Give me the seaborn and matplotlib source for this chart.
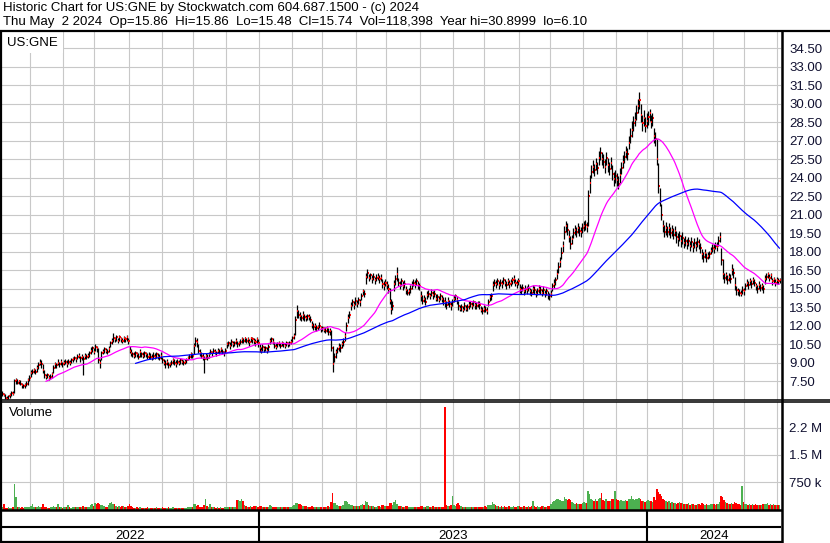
import numpy as np
import pandas as pd
import matplotlib
matplotlib.use('Agg')
import matplotlib.pyplot as plt
import seaborn as sns
from matplotlib.lines import Line2D

# Daily bars for US:GNE, one row per month (May 2022 .. May 2 2024)
closes = [
    6.5, 6.4, 6.2, 6.1, 6.3, 6.4, 6.6, 6.5, 7.5, 7.6, 7.4, 7.5, 7.3, 7.2, 7.1, 7.2, 7.3, 7.6, 7.8,
    8.2, 8.3, 8.4, 8.3, 8.6, 8.8, 9.0, 8.9, 8.4, 8.0, 7.9, 8.0, 7.8, 7.9, 8.1, 8.6, 8.9, 8.8, 9.0, 8.9, 9.1, 8.9,
    9.0, 9.1, 8.9, 9.1, 9.0, 9.2, 9.3, 9.4, 9.3, 9.5, 9.6, 9.4, 9.5, 9.3, 9.6, 9.5, 9.6, 9.8, 10.0, 10.2, 9.9,
    10.3, 10.2, 9.2, 9.0, 9.8, 9.9, 10.1, 10.0, 9.9, 10.1, 10.6, 10.8, 11.0, 10.9, 11.1, 10.8, 11.1, 10.9, 10.8, 11.0, 10.9, 11.1, 10.8,
    10.0, 9.8, 9.7, 9.6, 9.8, 9.7, 9.5, 9.9, 9.7, 9.6, 9.8, 9.7, 9.5, 9.6, 9.5, 9.4, 9.6, 9.5, 9.7, 9.5, 9.4, 9.6,
    9.2, 9.0, 8.9, 9.1, 8.8, 8.9, 9.0, 9.2, 9.0, 8.9, 9.1, 9.0, 9.2, 9.1, 9.0, 9.1, 9.2, 9.4, 9.5, 9.7, 9.6,
    10.4, 10.8, 10.7, 10.0, 9.8, 9.6, 9.5, 9.3, 9.6, 9.4, 9.7, 9.9, 9.8, 10.0, 9.9, 9.8, 10.0, 9.9, 10.1, 9.9, 9.8, 10.0,
    10.5, 10.6, 10.4, 10.7, 10.5, 10.6, 10.8, 10.5, 10.6, 10.7, 10.9, 10.8, 11.0, 10.8, 10.9, 10.7, 11.0, 10.9, 10.8, 10.7, 10.9, 10.6,
    10.2, 10.0, 10.3, 10.1, 10.2, 10.0, 10.3, 10.8, 10.9, 10.7, 10.4, 10.3, 10.5, 10.6, 10.4, 10.6, 10.5, 10.4, 10.6, 10.5, 10.6, 10.7,
    11.0, 11.2, 12.5, 13.2, 12.9, 12.8, 12.6, 12.9, 12.7, 12.6, 12.8, 12.7, 12.5, 12.1, 11.9, 12.0, 11.8, 11.9, 12.0, 11.8,
    11.8, 11.7, 11.6, 11.8, 11.5, 11.6, 10.2, 8.9, 9.5, 9.9, 10.1, 10.3, 10.2, 10.5, 10.7, 11.2, 12.0, 12.6, 12.9, 13.6, 13.9, 13.7, 14.0,
    13.8, 14.1, 13.9, 14.4, 14.8, 14.6, 16.0, 16.3, 15.9, 16.1, 15.8, 16.0, 15.7, 15.9, 16.0, 15.8, 15.9, 15.4, 15.2, 15.5,
    15.3, 15.0, 14.0, 13.4, 13.6, 15.4, 15.8, 16.2, 15.5, 15.3, 15.6, 15.2, 15.4, 14.9, 14.7, 14.8, 15.0, 15.3, 15.5, 15.4, 15.6, 15.3, 15.2,
    14.4, 14.0, 14.2, 13.9, 14.5, 14.6, 14.4, 14.7, 14.5, 14.6, 14.2, 14.3, 14.1, 14.4, 14.2, 14.0, 13.9, 13.7, 14.0, 13.8, 13.6, 13.9,
    14.2, 14.4, 14.1, 13.6, 13.4, 13.5, 13.3, 13.6, 13.4, 13.5, 13.7, 13.8, 13.6, 13.9, 13.7, 13.6, 13.8, 13.7, 13.3, 13.2, 13.4,
    13.3, 13.2, 13.9, 14.3, 14.4, 15.3, 15.5, 15.4, 15.6, 15.3, 15.5, 15.4, 15.7, 15.5, 15.3, 15.6, 15.4, 15.5, 15.7, 15.8, 15.5, 15.4, 15.6,
    15.0, 14.9, 15.1, 14.8, 15.0, 14.9, 15.1, 14.8, 14.7, 15.0, 14.9, 14.6, 14.8, 15.0, 14.9, 14.7, 14.9, 14.6, 14.8, 14.5, 14.4,
    14.6, 15.2, 15.4, 15.7, 16.2, 16.8, 17.2, 17.9, 18.5, 19.6, 20.1, 19.8, 19.2, 18.6, 19.0, 19.5, 19.8, 19.6, 19.9, 19.7, 19.6, 19.9,
    20.1, 20.2, 20.0, 22.5, 23.6, 24.5, 24.9, 24.6, 25.1, 24.8, 25.6, 26.0, 25.5, 25.3, 24.9, 25.6, 25.0, 24.7, 25.2, 24.3, 23.9, 24.1,
    23.8, 23.5, 24.2, 24.8, 25.3, 25.7, 26.1, 25.9, 26.8, 27.4, 27.9, 28.4, 28.7, 29.2, 29.8, 30.3, 29.1, 28.4, 28.8, 28.2, 28.6,
    28.9, 29.2, 28.5, 28.8, 27.4, 27.1, 25.5, 23.3, 22.0, 21.0, 20.1, 19.6, 19.9, 19.6, 19.9, 19.5, 19.8, 19.4, 19.7, 19.2, 19.0, 19.3, 18.9,
    19.1, 18.7, 18.9, 18.6, 18.9, 18.5, 18.8, 18.4, 18.7, 18.5, 18.8, 18.6, 18.3, 17.8, 17.6, 17.9, 17.5, 17.7, 17.8, 18.1, 18.3,
    18.2, 18.5, 18.4, 18.9, 19.2, 17.3, 16.2, 15.9, 16.1, 15.7, 16.0, 15.8, 16.5, 16.3, 15.3, 14.9, 14.8, 14.7, 14.6, 14.9, 14.8,
    15.2, 15.5, 15.3, 15.6, 15.4, 15.7, 15.5, 15.2, 15.0, 15.3, 15.1, 15.2, 15.0, 15.8, 16.0, 16.2, 15.9, 16.1, 15.6, 15.8, 15.5, 15.7,
    15.6, 15.74,
]

highs = [
    6.7, 6.6, 6.5, 6.3, 6.4, 6.6, 6.7, 6.7, 7.7, 7.8, 7.7, 7.6, 7.6, 7.4, 7.3, 7.4, 7.5, 7.8, 8.0,
    8.4, 8.5, 8.6, 8.5, 8.8, 9.1, 9.3, 9.2, 8.9, 8.4, 8.1, 8.2, 8.0, 8.1, 8.3, 8.8, 9.1, 9.0, 9.3, 9.1, 9.3, 9.1,
    9.2, 9.3, 9.2, 9.3, 9.2, 9.4, 9.5, 9.6, 9.5, 9.7, 9.8, 9.6, 9.7, 9.6, 9.8, 9.7, 9.8, 10.0, 10.3, 10.4, 10.2,
    10.5, 10.4, 10.2, 9.3, 10.0, 10.1, 10.3, 10.2, 10.1, 10.4, 10.8, 11.0, 11.4, 11.1, 11.3, 11.0, 11.3, 11.1, 11.0, 11.2, 11.1, 11.3, 11.0,
    10.4, 10.1, 9.9, 9.9, 10.0, 9.9, 9.8, 10.1, 9.9, 9.9, 10.0, 9.9, 9.8, 9.9, 9.8, 9.7, 9.9, 9.8, 9.9, 9.8, 9.7, 9.9,
    9.5, 9.3, 9.2, 9.3, 9.1, 9.1, 9.2, 9.4, 9.3, 9.2, 9.3, 9.2, 9.4, 9.3, 9.2, 9.3, 9.4, 9.6, 9.7, 9.9, 9.8,
    10.6, 11.1, 11.0, 10.5, 10.1, 9.9, 9.8, 9.6, 9.8, 9.7, 9.9, 10.1, 10.0, 10.2, 10.1, 10.0, 10.2, 10.1, 10.3, 10.1, 10.0, 10.2,
    10.7, 10.8, 10.7, 10.9, 10.8, 10.8, 11.0, 10.8, 10.8, 10.9, 11.1, 11.0, 11.1, 11.0, 11.1, 10.9, 11.1, 11.1, 11.0, 10.9, 11.1, 10.9,
    10.5, 10.3, 10.5, 10.4, 10.4, 10.3, 10.5, 11.0, 11.1, 11.0, 10.7, 10.6, 10.7, 10.8, 10.6, 10.8, 10.7, 10.6, 10.8, 10.7, 10.8, 10.9,
    11.2, 11.4, 12.8, 13.7, 13.3, 13.1, 12.9, 13.2, 13.0, 12.9, 13.0, 13.0, 12.8, 12.4, 12.2, 12.2, 12.1, 12.1, 12.3, 12.0,
    12.0, 11.9, 11.9, 12.0, 11.8, 11.8, 11.7, 10.4, 9.8, 10.1, 10.3, 10.6, 10.5, 10.8, 11.0, 11.5, 12.3, 13.0, 13.2, 13.9, 14.2, 14.0, 14.3,
    14.1, 14.3, 14.2, 14.7, 15.0, 14.9, 16.3, 16.6, 16.2, 16.3, 16.1, 16.3, 16.0, 16.2, 16.3, 16.1, 16.2, 15.8, 15.6, 15.8,
    15.6, 15.4, 15.1, 14.2, 14.0, 15.7, 16.1, 16.8, 15.9, 15.6, 15.9, 15.6, 15.7, 15.2, 15.0, 15.1, 15.3, 15.6, 15.8, 15.7, 15.9, 15.6, 15.5,
    14.8, 14.5, 14.5, 14.3, 14.8, 14.9, 14.7, 15.0, 14.8, 14.9, 14.6, 14.6, 14.4, 14.7, 14.5, 14.3, 14.3, 14.0, 14.3, 14.1, 13.9, 14.2,
    14.5, 14.6, 14.4, 14.0, 13.7, 13.8, 13.6, 13.9, 13.7, 13.8, 14.0, 14.0, 13.9, 14.1, 14.0, 13.9, 14.0, 14.0, 13.6, 13.5, 13.7,
    13.6, 13.5, 14.2, 14.6, 14.7, 15.6, 15.8, 15.7, 15.9, 15.6, 15.8, 15.7, 16.0, 15.8, 15.6, 15.9, 15.7, 15.8, 16.0, 16.1, 15.8, 15.7, 15.9,
    15.4, 15.2, 15.4, 15.1, 15.3, 15.2, 15.4, 15.1, 15.0, 15.3, 15.2, 14.9, 15.1, 15.3, 15.2, 15.0, 15.2, 14.9, 15.1, 14.8, 14.7,
    14.9, 15.5, 15.8, 16.0, 16.6, 17.2, 17.6, 18.4, 18.9, 20.1, 20.5, 20.3, 19.8, 19.3, 19.4, 19.9, 20.2, 20.0, 20.3, 20.1, 20.0, 20.3,
    20.5, 20.6, 20.4, 23.0, 24.2, 25.0, 25.4, 25.1, 25.6, 25.3, 26.2, 26.5, 26.1, 25.9, 25.5, 26.1, 25.6, 25.3, 25.7, 25.0, 24.5, 24.6,
    24.4, 24.1, 24.8, 25.3, 25.8, 26.2, 26.6, 26.4, 27.4, 28.0, 28.6, 29.0, 29.3, 29.9, 30.4, 30.9, 30.0, 29.1, 29.5, 28.9, 29.2,
    29.4, 29.6, 29.1, 29.2, 28.0, 27.7, 27.1, 25.2, 23.2, 21.9, 20.6, 20.2, 20.4, 20.1, 20.3, 20.0, 20.2, 19.9, 20.1, 19.7, 19.5, 19.7, 19.4,
    19.6, 19.1, 19.3, 19.0, 19.2, 18.9, 19.2, 18.8, 19.1, 18.9, 19.2, 19.0, 18.7, 18.2, 18.0, 18.2, 17.9, 18.0, 18.1, 18.4, 18.6,
    18.6, 18.8, 18.8, 19.3, 19.6, 18.3, 17.4, 16.3, 16.4, 16.1, 16.3, 16.2, 17.0, 16.7, 16.0, 15.2, 15.1, 15.0, 14.9, 15.2, 15.1,
    15.5, 15.8, 15.6, 15.9, 15.7, 16.0, 15.8, 15.5, 15.3, 15.6, 15.4, 15.5, 15.3, 16.1, 16.3, 16.4, 16.2, 16.3, 15.9, 16.0, 15.8, 16.0,
    15.9, 15.86,
]

lows = [
    6.3, 6.3, 6.1, 6.0, 6.1, 6.2, 6.3, 6.4, 6.6, 7.3, 7.3, 7.3, 7.2, 7.0, 7.0, 7.0, 7.1, 7.2, 7.5,
    7.9, 8.1, 8.2, 8.1, 8.3, 8.5, 8.8, 8.6, 8.2, 7.8, 7.7, 7.8, 7.6, 7.7, 7.8, 8.2, 8.6, 8.6, 8.8, 8.7, 8.8, 8.7,
    8.8, 8.9, 8.7, 8.9, 8.8, 9.0, 9.1, 9.2, 9.1, 9.3, 9.4, 9.1, 9.2, 8.0, 9.3, 9.3, 9.4, 9.5, 9.7, 9.9, 9.7,
    10.0, 9.9, 9.0, 8.6, 9.2, 9.7, 9.8, 9.8, 9.7, 9.9, 10.3, 10.5, 10.7, 10.7, 10.8, 10.6, 10.8, 10.7, 10.6, 10.7, 10.7, 10.8, 10.5,
    9.8, 9.6, 9.5, 9.4, 9.5, 9.5, 9.3, 9.5, 9.5, 9.4, 9.5, 9.5, 9.3, 9.3, 9.3, 9.2, 9.3, 9.3, 9.4, 9.3, 9.2, 9.3,
    9.0, 8.8, 8.6, 8.8, 8.6, 8.7, 8.8, 8.9, 8.8, 8.7, 8.9, 8.8, 8.9, 8.9, 8.8, 8.9, 9.0, 9.2, 9.3, 9.4, 9.4,
    9.7, 10.4, 10.3, 9.8, 9.6, 9.4, 9.2, 8.2, 9.3, 9.2, 9.4, 9.7, 9.6, 9.8, 9.7, 9.6, 9.8, 9.7, 9.9, 9.7, 9.6, 9.8,
    10.2, 10.4, 10.1, 10.4, 10.3, 10.4, 10.5, 10.3, 10.4, 10.5, 10.6, 10.6, 10.7, 10.6, 10.6, 10.4, 10.7, 10.6, 10.5, 10.4, 10.6, 10.3,
    9.9, 9.8, 10.0, 9.9, 10.0, 9.8, 10.0, 10.5, 10.7, 10.5, 10.2, 10.1, 10.3, 10.4, 10.2, 10.4, 10.3, 10.2, 10.4, 10.3, 10.4, 10.5,
    10.7, 10.9, 11.3, 12.6, 12.6, 12.5, 12.4, 12.5, 12.4, 12.4, 12.5, 12.5, 12.3, 11.8, 11.7, 11.7, 11.6, 11.7, 11.8, 11.5,
    11.6, 11.5, 11.4, 11.5, 11.3, 11.3, 10.0, 8.3, 9.1, 9.4, 9.8, 10.0, 9.9, 10.2, 10.4, 10.8, 11.6, 12.2, 12.6, 13.3, 13.6, 13.4, 13.7,
    13.5, 13.8, 13.6, 14.1, 14.5, 14.3, 15.4, 15.9, 15.6, 15.8, 15.5, 15.7, 15.4, 15.6, 15.7, 15.5, 15.6, 15.1, 14.9, 15.2,
    15.0, 14.7, 13.8, 13.0, 13.3, 14.8, 15.3, 15.6, 15.2, 15.0, 15.2, 14.9, 15.1, 14.6, 14.5, 14.5, 14.7, 15.0, 15.2, 15.1, 15.3, 15.0, 14.9,
    14.0, 13.8, 13.9, 13.7, 14.2, 14.3, 14.2, 14.4, 14.2, 14.3, 14.0, 14.0, 13.9, 14.1, 13.9, 13.7, 13.5, 13.4, 13.7, 13.5, 13.3, 13.6,
    13.9, 14.1, 13.8, 13.3, 13.2, 13.2, 13.1, 13.3, 13.2, 13.2, 13.4, 13.5, 13.4, 13.6, 13.4, 13.4, 13.5, 13.4, 13.1, 13.0, 13.1,
    13.1, 13.0, 13.6, 14.0, 14.1, 14.8, 15.2, 15.1, 15.3, 15.0, 15.2, 15.1, 15.4, 15.2, 15.0, 15.3, 15.1, 15.2, 15.4, 15.5, 15.2, 15.1, 15.3,
    14.7, 14.6, 14.8, 14.5, 14.7, 14.6, 14.8, 14.5, 14.4, 14.7, 14.6, 14.3, 14.5, 14.7, 14.6, 14.4, 14.6, 14.3, 14.5, 14.2, 14.1,
    14.3, 14.8, 15.1, 15.3, 15.8, 16.3, 16.8, 17.4, 18.0, 19.0, 19.6, 19.4, 18.8, 18.2, 18.6, 19.1, 19.4, 19.2, 19.5, 19.3, 19.2, 19.5,
    19.7, 19.8, 19.6, 20.1, 22.8, 24.0, 24.4, 24.1, 24.6, 24.3, 25.0, 25.4, 25.0, 24.8, 24.4, 25.0, 24.5, 24.2, 24.7, 23.8, 23.3, 23.6,
    23.3, 23.1, 23.6, 24.3, 24.8, 25.2, 25.6, 25.4, 26.3, 26.8, 27.3, 27.8, 28.2, 28.7, 29.2, 29.6, 28.5, 27.8, 28.2, 27.7, 28.0,
    28.3, 28.6, 28.0, 28.2, 26.8, 26.6, 25.0, 22.8, 21.7, 20.6, 19.6, 19.2, 19.4, 19.2, 19.4, 19.1, 19.3, 19.0, 19.3, 18.7, 18.5, 18.9, 18.4,
    18.6, 18.3, 18.5, 18.2, 18.5, 18.1, 18.4, 18.0, 18.3, 18.1, 18.4, 18.2, 17.9, 17.4, 17.2, 17.5, 17.2, 17.4, 17.5, 17.8, 18.0,
    17.9, 18.2, 18.1, 18.5, 18.8, 16.9, 15.8, 15.5, 15.7, 15.4, 15.6, 15.5, 16.1, 15.9, 14.9, 14.5, 14.5, 14.4, 14.4, 14.6, 14.5,
    14.9, 15.2, 15.0, 15.3, 15.1, 15.4, 15.2, 14.9, 14.7, 15.0, 14.8, 14.9, 14.7, 15.4, 15.7, 15.9, 15.6, 15.8, 15.3, 15.5, 15.2, 15.4,
    15.4, 15.48,
]

# daily volume, thousands of shares
volumes = [
    60, 140, 50, 45, 55, 40, 50, 60, 700, 330, 80, 60, 45, 70, 40, 55, 60, 75, 60,
    90, 140, 70, 60, 75, 90, 80, 60, 140, 80, 55, 50, 45, 60, 70, 95, 80, 60, 140, 70, 60, 50,
    60, 55, 70, 110, 60, 50, 55, 65, 75, 60, 55, 60, 70, 100, 60, 55, 65, 80, 120, 150, 90,
    170, 150, 190, 140, 120, 110, 90, 80, 75, 110, 170, 200, 160, 140, 100, 80, 90, 70, 85, 100, 75, 80, 90,
    150, 90, 70, 50, 45, 60, 40, 55, 45, 40, 50, 45, 60, 40, 35, 45, 50, 40, 55, 45, 40, 50,
    55, 45, 40, 50, 60, 45, 40, 55, 45, 35, 45, 40, 50, 45, 40, 45, 50, 60, 70, 75, 60,
    140, 150, 90, 110, 70, 80, 60, 110, 280, 90, 70, 150, 80, 60, 55, 50, 60, 45, 55, 50, 45, 60,
    70, 60, 65, 55, 60, 70, 80, 250, 260, 240, 280, 230, 120, 90, 80, 70, 85, 75, 100, 90, 85, 80,
    90, 100, 70, 60, 75, 60, 70, 110, 90, 80, 75, 60, 55, 70, 60, 65, 60, 55, 70, 60, 65, 75,
    90, 110, 190, 180, 150, 140, 120, 100, 90, 85, 80, 75, 70, 90, 80, 70, 65, 75, 70, 80,
    70, 80, 75, 65, 90, 80, 200, 450, 190, 170, 110, 100, 85, 95, 110, 230, 240, 200, 160, 130, 110, 100, 90,
    90, 100, 85, 110, 150, 120, 230, 200, 130, 100, 90, 85, 80, 75, 90, 85, 80, 120, 110, 90,
    90, 100, 190, 180, 120, 200, 260, 150, 100, 90, 85, 80, 75, 90, 85, 70, 65, 80, 75, 70, 65, 70, 80,
    100, 90, 80, 70, 85, 90, 75, 70, 85, 80, 70, 75, 65, 80, 70, 75, 2800, 120, 100, 90, 110, 370,
    120, 90, 150, 180, 130, 100, 80, 70, 75, 65, 60, 70, 80, 65, 60, 70, 75, 60, 70, 65, 80,
    90, 80, 110, 120, 130, 200, 150, 120, 100, 90, 80, 85, 75, 90, 80, 70, 85, 75, 80, 90, 70, 75, 85,
    90, 80, 70, 85, 75, 80, 90, 70, 85, 230, 100, 80, 90, 75, 70, 85, 90, 80, 70, 85, 90,
    150, 200, 220, 250, 300, 280, 260, 240, 220, 350, 300, 250, 280, 260, 200, 180, 160, 170, 150, 160, 140, 170,
    200, 180, 170, 510, 420, 300, 250, 220, 280, 230, 300, 320, 450, 260, 240, 280, 220, 230, 240, 300, 280, 510,
    280, 260, 220, 250, 230, 240, 260, 220, 280, 300, 370, 280, 260, 300, 280, 320, 300, 240, 220, 200, 230,
    250, 220, 240, 200, 330, 260, 560, 480, 420, 380, 300, 260, 220, 200, 240, 180, 200, 190, 170, 160, 180, 200, 170,
    180, 160, 150, 140, 170, 130, 150, 140, 130, 120, 150, 140, 130, 180, 150, 130, 140, 120, 130, 150, 160,
    140, 130, 150, 160, 200, 370, 330, 250, 200, 180, 160, 150, 170, 160, 200, 180, 150, 140, 130, 650, 200,
    160, 140, 130, 150, 120, 140, 130, 150, 120, 110, 130, 120, 140, 160, 150, 170, 130, 140, 120, 150, 110, 130,
    120, 118,
]

price_ticks = [7.5, 9.0, 10.5, 12.0, 13.5, 15.0, 16.5, 18.0, 19.5, 21.0,
               22.5, 24.0, 25.5, 27.0, 28.5, 30.0, 31.5, 33.0, 34.5]
vol_ticks = [750000, 1500000, 2250000]
vol_tick_labels = ['750 k', '1.5 M', '2.2 M']
year_labels = ['2022', '2023', '2024']

header_1 = 'Historic Chart for US:GNE by Stockwatch.com 604.687.1500 - (c) 2024'
header_2 = ('Thu May  2 2024  Op=15.86  Hi=15.86  Lo=15.48  Cl=15.74  '
            'Vol=118,398  Year hi=30.8999  lo=6.10')

sns.set_style('white')
plt.rcParams['font.family'] = ['Liberation Sans', 'DejaVu Sans']
FS = 9.5

n = len(closes)
dates = pd.bdate_range(end='2024-05-02', periods=n)
df = pd.DataFrame({'date': dates, 'close': closes, 'high': highs, 'low': lows,
                   'volume': np.array(volumes) * 1000.0})
df['x'] = np.arange(n)
df['ma_short'] = df['close'].rolling(30).mean()
df['ma_long'] = df['close'].rolling(90).mean()
chg = df['close'].diff().fillna(1.0)
df['vcol'] = np.where(chg > 0, '#4cb050', np.where(chg < 0, '#ff0000', '#a0a0a0'))

month = df['date'].dt.month
year = df['date'].dt.year
month_edges = np.where(month != month.shift())[0][1:] - 0.5
year_edges = np.where(year != year.shift())[0][1:] - 0.5

W, H = 830, 543
def box(left, top, right, bottom):
    return [left / W, 1 - bottom / H, (right - left) / W, (bottom - top) / H]

fig = plt.figure(figsize=(8.3, 5.43), dpi=100)
ax = fig.add_axes(box(1, 31, 781, 399.5))
axv = fig.add_axes(box(1, 402, 781, 509.5))
axx = fig.add_axes(box(1, 510, 781, 541.5))

grid_col = '#c8c8c8'
lab_col = '#101030'

# price panel: black high-low bars, red close ticks, moving averages
ax.vlines(df['x'], df['low'], df['high'], color='black', lw=0.9, zorder=3)
ax.hlines(df['close'], df['x'] + 0.3, df['x'] + 1.0, color='#ff0000', lw=1.4, zorder=3.5)
sns.lineplot(data=df.dropna(subset=['ma_short']), x='x', y='ma_short', ax=ax,
             color='#ff00ff', lw=0.9, errorbar=None, zorder=4)
sns.lineplot(data=df.dropna(subset=['ma_long']), x='x', y='ma_long', ax=ax,
             color='#0000ff', lw=0.9, errorbar=None, zorder=4)
ax.set_xlim(-1, n)
ax.set_ylim(6.04, 35.88)
ax.set_yticks(price_ticks)
ax.set_yticklabels([f'{t:.2f}' for t in price_ticks])
ax.set_xticks(month_edges)
ax.set_xticklabels([])
ax.set_xlabel('')
ax.set_ylabel('')
ax.text(0.008, 0.985, 'US:GNE', transform=ax.transAxes, ha='left', va='top',
        fontsize=FS, color='black', zorder=6,
        bbox=dict(fc='white', ec='none', pad=3.5))

# volume panel
axv.bar(df['x'], df['volume'], width=1.0, color=df['vcol'], linewidth=0, zorder=2)
axv.set_xlim(-1, n)
axv.set_ylim(0, 2.95e6)
axv.set_yticks(vol_ticks)
axv.set_yticklabels(vol_tick_labels)
axv.set_xticks(month_edges)
axv.set_xticklabels([])
axv.text(0.010, 0.955, 'Volume', transform=axv.transAxes, ha='left', va='top',
         fontsize=FS, color='black', zorder=6,
         bbox=dict(fc='white', ec='none', pad=1.0))

for a in (ax, axv):
    a.yaxis.tick_right()
    a.tick_params(axis='y', length=0, pad=6, labelsize=FS, labelcolor=lab_col)
    a.tick_params(axis='x', length=0)
    a.grid(True, color=grid_col, lw=0.8, zorder=0)
    a.set_axisbelow(True)
    for s in a.spines.values():
        s.set_visible(False)

# year axis rows
axx.set_xlim(-1, n)
axx.set_ylim(0, 1)
axx.axhline(0.45, color='black', lw=1.5)
for e in year_edges:
    axx.axvline(e, color='black', lw=1.5)
edges = [-1] + list(year_edges) + [n]
for lab, a0, a1 in zip(year_labels, edges[:-1], edges[1:]):
    axx.text((a0 + a1) / 2, 0.19, lab, ha='center', va='center', fontsize=FS, color='black')
axx.set_xticks([])
axx.set_yticks([])
for s in axx.spines.values():
    s.set_visible(False)

# frame lines
def fline(x0, y0, x1, y1, lw):
    fig.add_artist(Line2D([x0 / W, x1 / W], [1 - y0 / H, 1 - y1 / H], color='black',
                          lw=lw, transform=fig.transFigure, solid_capstyle='butt'))

fline(0, 30.5, 830, 30.5, 1.6)
fline(0, 399.5, 830, 399.5, 1.1)
fline(0, 402.2, 830, 402.2, 1.1)
fline(0, 510, 782, 510, 1.8)
fline(0, 541.8, 782, 541.8, 1.6)
fline(0.8, 30, 0.8, 543, 1.6)
fline(781.5, 30, 781.5, 543, 1.8)

# header
fig.text(3 / W, 1 - 2.5 / H, header_1, ha='left', va='top', fontsize=FS, color='black')
fig.text(3 / W, 1 - 16 / H, header_2, ha='left', va='top', fontsize=FS, color='black')

fig.savefig('out.png', dpi=100)
